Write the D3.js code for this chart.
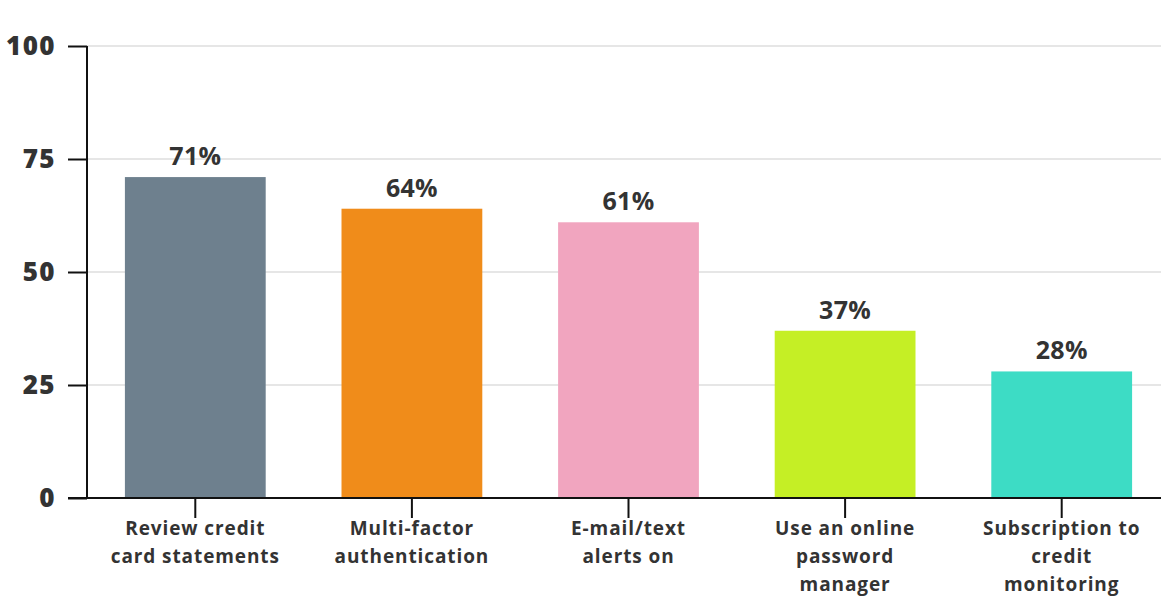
<!DOCTYPE html>
<html>
<head>
<meta charset="utf-8">
<script src="https://cdn.jsdelivr.net/npm/d3@7"></script>
<style>
  html, body { margin: 0; padding: 0; background: #fff; }
  svg { display: block; }
  text { font-family: "Open Sans", "Noto Sans", sans-serif; font-weight: 700; fill: #333; }
</style>
</head>
<body>
<svg id="chart" width="1161" height="604"></svg>
<script>
// Share of respondents using each protection habit (%)
const categories = [
  ["Review credit", "card statements"],
  ["Multi-factor", "authentication"],
  ["E-mail/text", "alerts on"],
  ["Use an online", "password", "manager"],
  ["Subscription to", "credit", "monitoring"]
];
const values = [71, 64, 61, 37, 28];
const colors = ["#6e808e", "#f08c1a", "#f1a5bf", "#c5ef25", "#3ddcc5"];
const yTicks = [0, 25, 50, 75, 100];

(function drawChart() {
  const svg = d3.select("#chart");
  const plotLeft = 87, plotRight = 1170, plotTop = 46, plotBottom = 498;

  const x = d3.scaleBand()
    .domain(d3.range(values.length))
    .range([plotLeft, plotRight])
    .paddingInner(0.35)
    .paddingOuter(0.175);

  const y = d3.scaleLinear().domain([0, 100]).range([plotBottom, plotTop]);

  // horizontal gridlines
  svg.append("g")
    .selectAll("line")
    .data(yTicks.filter(d => d > 0))
    .join("line")
    .attr("x1", plotLeft).attr("x2", 1161)
    .attr("y1", d => y(d)).attr("y2", d => y(d))
    .attr("stroke", "#e6e6e6").attr("stroke-width", 2);

  // bars
  svg.append("g")
    .selectAll("rect")
    .data(values)
    .join("rect")
    .attr("x", (d, i) => x(i))
    .attr("width", x.bandwidth())
    .attr("y", d => y(d))
    .attr("height", d => y(0) - y(d))
    .attr("fill", (d, i) => colors[i]);

  // value labels
  svg.append("g")
    .selectAll("text")
    .data(values)
    .join("text")
    .attr("x", (d, i) => x(i) + x.bandwidth() / 2)
    .attr("y", d => y(d) - 12)
    .attr("text-anchor", "middle")
    .style("font-size", "25px")
    .style("letter-spacing", "0.3px")
    .text(d => d + "%");

  // y axis
  const yAxis = svg.append("g")
    .attr("transform", `translate(${plotLeft},0)`)
    .call(d3.axisLeft(y).tickValues(yTicks).tickSize(19).tickPadding(12));
  yAxis.select(".domain").attr("stroke", "#111").attr("stroke-width", 2).attr("d", `M0,${plotTop}V${plotBottom}`);
  yAxis.selectAll(".tick line").attr("stroke", "#111").attr("stroke-width", 2);
  yAxis.selectAll(".tick text")
    .style("font-size", "26px")
    .style("letter-spacing", "1.4px")
    .style("font-family", "'Open Sans', sans-serif")
    .style("font-weight", "800")
    .attr("fill", "#333");

  // x axis baseline
  svg.append("line")
    .attr("x1", plotLeft - 19).attr("x2", 1161)
    .attr("y1", plotBottom).attr("y2", plotBottom)
    .attr("stroke", "#111").attr("stroke-width", 2);

  // x ticks and category labels
  const xg = svg.append("g")
    .selectAll("g")
    .data(categories)
    .join("g")
    .attr("transform", (d, i) => `translate(${x(i) + x.bandwidth() / 2},0)`);
  xg.append("line")
    .attr("y1", plotBottom).attr("y2", plotBottom + 20)
    .attr("stroke", "#111").attr("stroke-width", 2);
  xg.append("text")
    .attr("text-anchor", "middle")
    .style("font-size", "19px")
    .style("letter-spacing", "0.9px")
    .selectAll("tspan")
    .data(d => d)
    .join("tspan")
    .attr("x", 0)
    .attr("y", (d, j) => 535 + j * 28)
    .text(d => d);
})();
</script>
</body>
</html>
